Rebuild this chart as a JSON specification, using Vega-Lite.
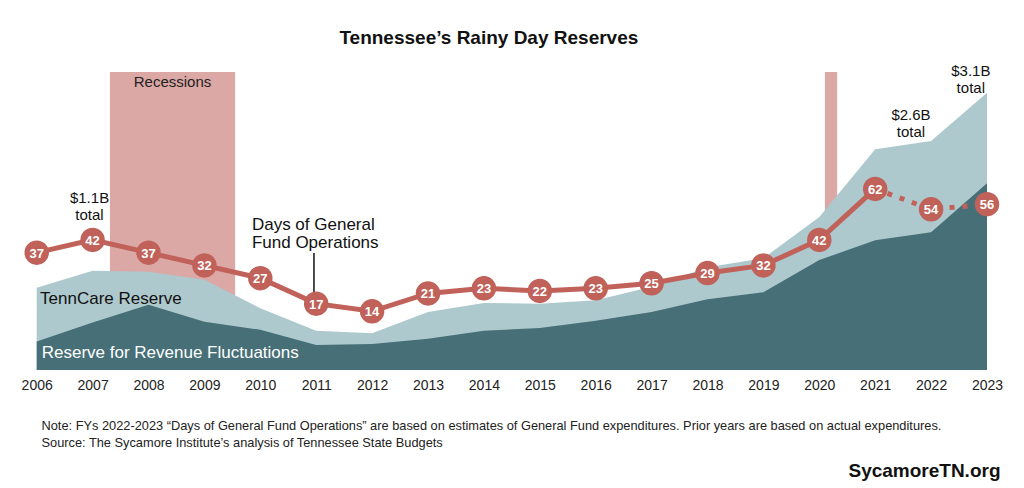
{
"$schema":"https://vega.github.io/schema/vega-lite/v6.json",
"width":950.3,"height":298,
"autosize":{"type":"none"},
"padding":{"left":36.7,"top":72,"right":37,"bottom":118},
"background":"white",
"config":{"font":"Liberation Sans","view":{"stroke":null}},
"title":{"text":"Tennessee’s Rainy Day Reserves","fontSize":19,"fontWeight":"bold","font":"Liberation Sans","color":"#111111","anchor":"middle","frame":"group","dx":-23,"offset":1,"baseline":"alphabetic"},
"data":{"values":[
{"year":2006,"rrf":0.32,"total":0.92,"days":37},
{"year":2007,"rrf":0.53,"total":1.11,"days":42},
{"year":2008,"rrf":0.73,"total":1.10,"days":37},
{"year":2009,"rrf":0.54,"total":1.01,"days":32},
{"year":2010,"rrf":0.45,"total":0.69,"days":27},
{"year":2011,"rrf":0.28,"total":0.44,"days":17},
{"year":2012,"rrf":0.29,"total":0.41,"days":14},
{"year":2013,"rrf":0.35,"total":0.65,"days":21},
{"year":2014,"rrf":0.44,"total":0.75,"days":23},
{"year":2015,"rrf":0.47,"total":0.74,"days":22},
{"year":2016,"rrf":0.55,"total":0.78,"days":23},
{"year":2017,"rrf":0.65,"total":0.93,"days":25},
{"year":2018,"rrf":0.79,"total":1.15,"days":29},
{"year":2019,"rrf":0.87,"total":1.25,"days":32},
{"year":2020,"rrf":1.23,"total":1.71,"days":42},
{"year":2021,"rrf":1.45,"total":2.47,"days":62},
{"year":2022,"rrf":1.54,"total":2.56,"days":54},
{"year":2023,"rrf":2.09,"total":3.10,"days":56}
]},
"layer":[
{"layer":[
 {"data":{"values":[{"start":2007.31,"end":2009.55},{"start":2020.10,"end":2020.32}]},
  "mark":{"type":"rect","color":"#dba8a5"},
  "encoding":{"x":{"field":"start","type":"quantitative","scale":{"domain":[2006,2023],"nice":false,"zero":false}},"x2":{"field":"end"}}},
 {"mark":{"type":"area","color":"#adc9cd","opacity":1},
  "encoding":{
   "x":{"field":"year","type":"quantitative","axis":{"values":[2006,2007,2008,2009,2010,2011,2012,2013,2014,2015,2016,2017,2018,2019,2020,2021,2022,2023],"format":"d","labelFontSize":14,"labelColor":"#222222","labelFont":"Liberation Sans","ticks":false,"domain":false,"grid":false,"labelPadding":8,"labelFlush":false,"labelOverlap":false,
     "title":["Note: FYs 2022-2023 “Days of General Fund Operations” are based on estimates of General Fund expenditures. Prior years are based on actual expenditures.","Source: The Sycamore Institute’s analysis of Tennessee State Budgets"],
     "titleFont":"Liberation Sans","titleFontSize":12.8,"titleFontWeight":"normal","titleColor":"#222222","titleAlign":"left","titleAnchor":"start","titleX":4.3,"titleY":59,"titleBaseline":"alphabetic","titleLineHeight":17}},
   "y":{"field":"total","type":"quantitative","scale":{"domain":[0,3.333],"nice":false,"zero":true},"axis":null}}},
 {"mark":{"type":"area","color":"#466f77","opacity":1},
  "encoding":{"x":{"field":"year","type":"quantitative"},"y":{"field":"rrf","type":"quantitative","axis":null}}},
 {"data":{"values":[{}]},"mark":{"type":"text","text":"Recessions","fontSize":15,"color":"#222222","align":"center","baseline":"alphabetic"},
  "encoding":{"x":{"datum":2008.43,"type":"quantitative"},"y":{"datum":3.166,"type":"quantitative","axis":null}}},
 {"data":{"values":[{}]},"mark":{"type":"text","text":"TennCare Reserve","fontSize":17,"color":"#111111","align":"left","baseline":"alphabetic"},
  "encoding":{"x":{"datum":2006.06,"type":"quantitative"},"y":{"datum":0.738,"type":"quantitative","axis":null}}},
 {"data":{"values":[{}]},"mark":{"type":"text","text":"Reserve for Revenue Fluctuations","fontSize":17,"color":"#ffffff","align":"left","baseline":"alphabetic"},
  "encoding":{"x":{"datum":2006.09,"type":"quantitative"},"y":{"datum":0.134,"type":"quantitative","axis":null}}},
 {"data":{"values":[{}]},"mark":{"type":"text","text":["$1.1B","total"],"fontSize":15,"lineHeight":17,"color":"#111111","align":"center","baseline":"alphabetic"},
  "encoding":{"x":{"datum":2006.945,"type":"quantitative"},"y":{"datum":1.868,"type":"quantitative","axis":null}}},
 {"data":{"values":[{}]},"mark":{"type":"text","text":["$2.6B","total"],"fontSize":15,"lineHeight":17,"color":"#111111","align":"center","baseline":"alphabetic"},
  "encoding":{"x":{"datum":2021.64,"type":"quantitative"},"y":{"datum":2.796,"type":"quantitative","axis":null}}},
 {"data":{"values":[{}]},"mark":{"type":"text","text":["$3.1B","total"],"fontSize":15,"lineHeight":17,"color":"#111111","align":"center","baseline":"alphabetic"},
  "encoding":{"x":{"datum":2022.71,"type":"quantitative"},"y":{"datum":3.292,"type":"quantitative","axis":null}}}
]},
{"layer":[
 {"transform":[{"filter":"datum.year <= 2021"}],
  "mark":{"type":"line","color":"#c0625a","strokeWidth":5},
  "encoding":{"x":{"field":"year","type":"quantitative"},
   "y":{"field":"days","type":"quantitative","scale":{"domain":[-9.02,107.84],"nice":false,"zero":false},
    "axis":{"orient":"right","labels":false,"ticks":false,"domain":false,"grid":false,"title":"SycamoreTN.org","titleAngle":0,"titleX":13,"titleY":404,"titleAlign":"right","titleBaseline":"alphabetic","titleFont":"Liberation Sans","titleFontSize":19,"titleFontWeight":"bold","titleColor":"#111111"}}}},
 {"transform":[{"filter":"datum.year >= 2021"}],
  "mark":{"type":"line","color":"#c0625a","strokeWidth":5,"strokeDash":[5,8]},
  "encoding":{"x":{"field":"year","type":"quantitative"},"y":{"field":"days","type":"quantitative"}}},
 {"data":{"values":[{}]},"mark":{"type":"rule","color":"#111111","strokeWidth":1.5},
  "encoding":{"x":{"datum":2010.96,"type":"quantitative"},"y":{"datum":20,"type":"quantitative"},"y2":{"datum":36.9}}},
 {"mark":{"type":"circle","size":600,"opacity":1,"color":"#c0625a"},
  "encoding":{"x":{"field":"year","type":"quantitative"},"y":{"field":"days","type":"quantitative"}}},
 {"mark":{"type":"text","color":"#ffffff","fontSize":13,"fontWeight":"bold","baseline":"middle","align":"center","dy":1},
  "encoding":{"x":{"field":"year","type":"quantitative"},"y":{"field":"days","type":"quantitative"},"text":{"field":"days","type":"quantitative"}}},
 {"data":{"values":[{}]},"mark":{"type":"text","text":["Days of General","Fund Operations"],"fontSize":17,"lineHeight":18.5,"color":"#111111","align":"left","baseline":"alphabetic"},
  "encoding":{"x":{"datum":2009.85,"type":"quantitative"},"y":{"datum":45.9,"type":"quantitative"}}}
]}
],
"resolve":{"scale":{"y":"independent"}}
}
